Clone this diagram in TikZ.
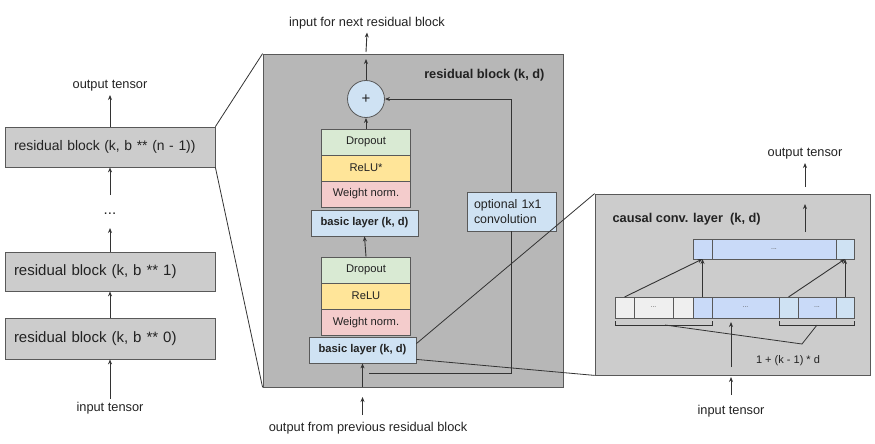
\documentclass[tikz,border=0pt]{standalone}
\usepackage{fontspec}
\setmainfont{Liberation Sans}
\usetikzlibrary{arrows.meta,calc}
\definecolor{bordc}{HTML}{595959}
\definecolor{linec}{HTML}{333333}
\definecolor{txtc}{HTML}{222222}
\definecolor{grayA}{HTML}{CCCCCC}
\definecolor{grayB}{HTML}{B7B7B7}
\definecolor{grayC}{HTML}{EFEFEF}
\definecolor{drop}{HTML}{D9EAD3}
\definecolor{relu}{HTML}{FFE599}
\definecolor{wn}{HTML}{F4CCCC}
\definecolor{lblue}{HTML}{CFE2F3}
\definecolor{mblue}{HTML}{C9DAF8}
\newcommand\rkBig{\fontsize{15}{18}\selectfont}
\newcommand\rkLbl{\fontsize{12.8}{15}\selectfont}
\newcommand\rkBox{\fontsize{11.2}{13.5}\selectfont}
\newcommand\rkTiny{\fontsize{7}{8}\selectfont}
\begin{document}
\begin{tikzpicture}[x=1pt,y=-1pt,
  every node/.style={text=txtc},
  arr/.style={-{Stealth[length=5pt,width=4pt]}, draw=linec, line width=0.9pt},
  lbox/.style={draw=bordc, fill=grayA, line width=0.8pt, minimum width=210, text width=192, inner xsep=9, align=left, font=\rkBig},
  sbox/.style={draw=bordc, line width=0.8pt, minimum width=89, minimum height=26, inner sep=0, font=\rkBox},
  blbox/.style={draw=bordc, fill=lblue, line width=0.8pt, minimum width=107, minimum height=26, inner sep=0, font=\rkBox\bfseries},
  cell/.style={draw=bordc, line width=0.8pt, inner sep=0, outer sep=0, font=\rkTiny, text=bordc},
  lbl/.style={font=\rkLbl},
  zl/.style={draw=linec, line width=0.8pt}
]
\useasboundingbox (0,0) rectangle (875,444);

% ---------- left column ----------
\node[lbox, minimum height=40, font=\fontsize{13.9}{17}\selectfont] (b3) at (110,147) {residual block (k, b ** (n - 1))};
\node[lbox, minimum height=39] (b2) at (110,271.5) {residual block (k, b ** 1)};
\node[lbox, minimum height=41] (b1) at (110,338.5) {residual block (k, b ** 0)};
\node[font=\rkBig] (dots) at (110,214) {...};
\node[lbl] (lout) at (110,86) {output tensor};
\node[lbl] (lin) at (110,408) {input tensor};
\coordinate (dotsdown) at (110,195);
\coordinate (dotsup) at (110,228);
\draw[arr] (b3.north) -- (lout.south);
\draw[arr] (dotsdown) -- (b3.south);
\draw[arr] (b2.north) -- (dotsup);
\draw[arr] (b1.north) -- (b2.south);
\draw[arr] (lin.north) -- (b1.south);

% ---------- middle panel ----------
\node[draw=bordc, fill=grayB, line width=0.8pt, minimum width=300, minimum height=333, inner sep=0] (mid) at (413,220.5) {};
\node[font=\rkLbl\bfseries, anchor=east] (midt) at (548,75) {residual block (k, d)};
\node[circle, draw=bordc, fill=lblue, line width=0.8pt, minimum size=37, inner sep=0, font=\fontsize{15}{16}\selectfont] (plus) at (366,99) {+};
\node[sbox, fill=drop] (d1) at (366,142) {Dropout};
\node[sbox, fill=relu] (r1) at (366,168) {ReLU*};
\node[sbox, fill=wn] (w1) at (366,194) {Weight norm.};
\node[blbox] (l1) at (364.5,223) {basic layer (k, d)};
\node[sbox, fill=drop] (d2) at (366,270) {Dropout};
\node[sbox, fill=relu] (r2) at (366,296) {ReLU};
\node[sbox, fill=wn] (w2) at (366,322.5) {Weight norm.};
\node[blbox] (l2) at (362.5,350) {basic layer (k, d)};
\node[draw=bordc, fill=lblue, line width=0.8pt, minimum width=89, minimum height=39, inner xsep=7, inner ysep=0, text width=75, align=left, font=\fontsize{12.4}{15}\selectfont] (conv) at (511.5,211.5) {optional 1x1\\convolution};
\node[lbl] (mtop) at (367,23) {input for next residual block};
\node[lbl] (mbot) at (368,428) {output from previous residual block};
\coordinate (plusup) at (366,59);
\coordinate (midtop) at (366,52);
\coordinate (midbot) at (362.5,387);
\coordinate (inst) at (362.5,415);
\coordinate (intip) at (362.5,397);
\coordinate (skipj) at (369,373);
\draw[arr] (plus.north) -- (plusup);
\draw[arr] (midtop) -- (mtop.south);
\draw[arr] (d1.north) -- (plus.south);
\draw[arr] (d2.north) -- (l1.south);
\draw[arr] (midbot) -- (l2.south);
\draw[arr] (inst) -- (intip);
\draw[arr] (conv.north) |- (plus.east);
\draw[draw=linec, line width=0.9pt] (skipj) -| (conv.south);

% ---------- right panel ----------
\node[draw=bordc, fill=grayA, line width=0.8pt, minimum width=275, minimum height=181, inner sep=0] (rp) at (732.5,284.5) {};
\node[font=\rkLbl\bfseries, anchor=west] (rpt) at (609,219) {causal conv. layer\ \ (k, d)};
% top row
\node[cell, fill=mblue, minimum width=19, minimum height=20] (t1) at (702.5,249) {};
\node[cell, fill=mblue, minimum width=124, minimum height=20] (t2) at (774,249) {...};
\node[cell, fill=lblue, minimum width=18, minimum height=20] (t3) at (845,249) {};
% bottom row
\node[cell, fill=grayC, minimum width=19, minimum height=21] (c1) at (624.5,307.5) {};
\node[cell, fill=grayC, minimum width=39, minimum height=21] (c2) at (653.5,307.5) {...};
\node[cell, fill=grayC, minimum width=20, minimum height=21] (c3) at (683,307.5) {};
\node[cell, fill=mblue, minimum width=19, minimum height=21] (c4) at (702.5,307.5) {};
\node[cell, fill=mblue, minimum width=67, minimum height=21] (c5) at (745.5,307.5) {...};
\node[cell, fill=lblue, minimum width=19, minimum height=21] (c6) at (788.5,307.5) {};
\node[cell, fill=mblue, minimum width=38, minimum height=21] (c7) at (817,307.5) {...};
\node[cell, fill=lblue, minimum width=18, minimum height=21] (c8) at (845,307.5) {};
\draw[arr] (c1.north) -- (t1.south);
\draw[arr] (c4.north) -- (t1.south -| c4.north);
\draw[arr] (c6.north) -- (t3.south);
\draw[arr] (c8.north) -- (t3.south -| c8.north);
% brackets
\draw[draw=linec, line width=0.8pt] (615,321) -- (615,325) -- (712,325) -- (712,321);
\draw[draw=linec, line width=0.8pt] (779,321) -- (779,325) -- (854,325) -- (854,321);
\coordinate (brl) at (665,325);
\coordinate (brr) at (817,325);
\coordinate (brj) at (802,344);
\draw[draw=linec, line width=0.8pt] (brl) -- (brj) -- (brr);
\node[font=\fontsize{11}{13}\selectfont] (kd) at (788,361) {1 + (k - 1) * d};
\node[lbl] (rout) at (805,154) {output tensor};
\node[lbl] (rin) at (731,411) {input tensor};
\coordinate (routst) at (805,187);
\coordinate (rinner) at (805,232);
\coordinate (rinnertip) at (805,204);
\coordinate (rinst) at (731,367);
\coordinate (rintip) at (731,322);
\coordinate (rinost) at (731,395);
\coordinate (rinotip) at (731,377);
\draw[arr] (routst) -- (rout.south);
\draw[arr] (rinner) -- (rinnertip);
\draw[arr] (rinst) -- (rintip);
\draw[arr] (rinost) -- (rinotip);

% ---------- zoom lines ----------
\draw[zl] (b3.north east) -- (mid.north west);
\draw[zl] (b3.south east) -- (mid.south west);
\draw[zl] ([yshift=-7pt]l2.north east) -- (rp.north west);
\draw[zl] ([yshift=4pt]l2.south east) -- (rp.south west);
\end{tikzpicture}
\end{document}
